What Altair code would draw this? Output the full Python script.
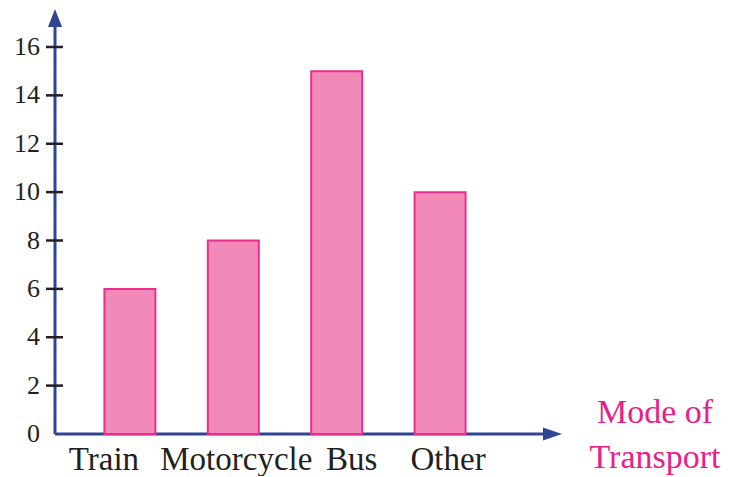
import altair as alt
import pandas as pd

modes = ["Train", "Motorcycle", "Bus", "Other"]
counts = [6, 8, 15, 10]
y_ticks = [0, 2, 4, 6, 8, 10, 12, 14, 16]
x_title = ["Mode of", "Transport"]

AXIS = "#2D4593"
FILL = "#F28AB9"
STROKE = "#EC2C8E"
TEXT = "#231F20"
PINK = "#E8208A"
FONT = "Liberation Serif"

df = pd.DataFrame({"mode": modes, "count": counts})
labels_df = pd.DataFrame({"count": y_ticks})
ticks_df = pd.DataFrame({"count": [t for t in y_ticks if t > 0]})
one = pd.DataFrame({"a": [0]})

y_scale = alt.Scale(domain=[0, 16], nice=False)
x_scale = alt.Scale(paddingInner=0.507, paddingOuter=0.478)

y_line = alt.Chart(one).mark_rule(color=AXIS, strokeWidth=3).encode(
    x=alt.value(0), y=alt.value(-22), y2=alt.value(387)
)
x_line = alt.Chart(one).mark_rule(color=AXIS, strokeWidth=3).encode(
    x=alt.value(0), x2=alt.value(490), y=alt.value(387)
)
y_arrow = alt.Chart(one).mark_point(
    shape="M0,-1L0.78,1L-0.78,1Z", filled=True, size=324, color=AXIS, opacity=1
).encode(x=alt.value(0), y=alt.value(-29))
x_arrow = alt.Chart(one).mark_point(
    shape="M1,0L-1,-0.68L-1,0.68Z", filled=True, size=361, color=AXIS, opacity=1
).encode(x=alt.value(497.5), y=alt.value(387))

bars = alt.Chart(df).mark_bar(fill=FILL, stroke=STROKE, strokeWidth=2).encode(
    x=alt.X(
        "mode:N", sort=modes, scale=x_scale,
        axis=alt.Axis(title=None, domain=False, ticks=False, labelAngle=0,
                      labelFont=FONT, labelFontSize=33, labelColor=TEXT,
                      labelPadding=9, labelBaseline="top",
                      labelOffset=alt.expr(
                          "datum.value == 'Train' ? -26 : datum.value == 'Bus' ? 15 : datum.value == 'Other' ? 8 : 3"
                      )),
    ),
    y=alt.Y("count:Q", scale=y_scale, axis=None),
)

tick_marks = alt.Chart(ticks_df).mark_rule(color=TEXT, strokeWidth=2.5).encode(
    y=alt.Y("count:Q", scale=y_scale, axis=None),
    x=alt.value(-9), x2=alt.value(8),
)

tick_labels = alt.Chart(labels_df).mark_text(
    font=FONT, fontSize=26, color=TEXT, align="right", baseline="middle"
).encode(
    y=alt.Y("count:Q", scale=y_scale, axis=None),
    x=alt.value(-15),
    text=alt.Text("count:Q"),
)

label = alt.Chart(one).mark_text(
    text=x_title, font=FONT, fontSize=34, color=PINK, align="center",
    baseline="alphabetic", lineHeight=45,
).encode(x=alt.value(600), y=alt.value(376))

chart = alt.layer(y_line, x_line, y_arrow, x_arrow, bars, tick_marks, tick_labels, label).properties(
    width=460, height=387,
    padding={"left": 47, "top": 39, "right": 213, "bottom": 42},
    autosize=alt.AutoSizeParams(type="none"),
).configure_view(stroke=None)

chart.save("out.html", embed_options={"renderer": "svg", "actions": False})
